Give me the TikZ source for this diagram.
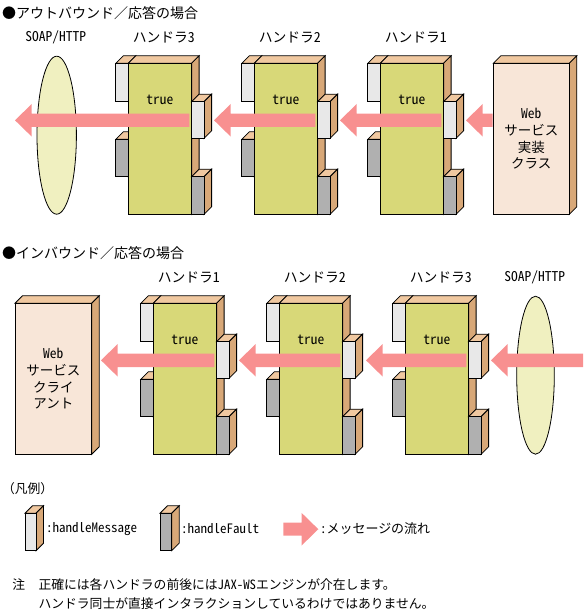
\documentclass[tikz,border=0pt]{standalone}
\usepackage{fontspec}
\setmainfont{Noto Sans CJK JP}
\newfontfamily\hwf{Noto Sans CJK JP}[RawFeature=+hwid]
\usetikzlibrary{shapes.geometric,calc}
\definecolor{topc}{HTML}{F0C8A0}
\definecolor{sidec}{HTML}{D8A878}
\definecolor{mainc}{HTML}{D8D878}
\definecolor{hmc}{HTML}{E8E8E8}
\definecolor{hfc}{HTML}{B0B0B0}
\definecolor{webc}{HTML}{F8E6D8}
\definecolor{ellc}{HTML}{F0F0C0}
\definecolor{flowc}{HTML}{F89090}
\tikzset{
  edge/.style={draw=black, line width=0.8pt, line join=miter},
  topf/.style={fill=topc, edge},
  sidef/.style={fill=sidec, edge},
  facebox/.style={edge, anchor=north west, inner sep=0pt, outer sep=0pt},
  txt/.style={inner sep=0pt, outer sep=0pt},
  ltxt/.style={txt, anchor=west},
  titletxt/.style={ltxt, font=\fontsize{14}{16.7}\selectfont},
  notetxt/.style={ltxt, font=\fontsize{12.8}{15}\selectfont},
  flow/.style={fill=flowc, draw=none},
}
% x y w h color name
\newcommand\hport[6]{%
  \path[topf] (#1,#2) -- ++(7.5,-7.5) -- ++(#3,0) -- ++(-7.5,7.5) -- cycle;
  \path[sidef] (#1+#3,#2) -- ++(7.5,-7.5) -- ++(0,#4) -- ++(-7.5,7.5) -- cycle;
  \node[facebox, fill=#5, minimum width=#3pt, minimum height=#4pt] (#6) at (#1,#2) {};
}
% x y prefix label
\newcommand\drawhandler[4]{%
  \begin{scope}[shift={(#1,#2)}]
    \hport{-12.5}{0}{12.5}{37.7}{hmc}{#3lm}
    \hport{-12.5}{76}{12.5}{37.4}{hfc}{#3lf}
    \path[topf] (0,0) -- (7.5,-7.5) -- (70.8,-7.5) -- (63.3,0) -- cycle;
    \path[sidef] (63.3,0) -- (70.8,-7.5) -- (70.8,143.5) -- (63.3,151) -- cycle;
    \node[facebox, fill=mainc, minimum width=63.3pt, minimum height=151pt] (#3) at (0,0) {};
    \node[txt] (#3t) at (31.5,37) {\hwf true};
    \hport{63.3}{38.4}{12.5}{36.6}{hmc}{#3rm}
    \hport{63.3}{113.4}{12.5}{37.6}{hfc}{#3rf}
    \node[txt, font=\fontsize{13.8}{16.7}\selectfont] (#3l) at (35.5,-26) {#4};
  \end{scope}%
}
% tail tip (leftwards)
\newcommand\flowarr[2]{%
  \path[flow] (#2) -- ($(#2)+(16.7,-16.3)$) -- ($(#2)+(16.7,-6.7)$) -- ($(#1)+(0,-6.7)$)
    -- ($(#1)+(0,6.7)$) -- ($(#2)+(16.7,6.7)$) -- ($(#2)+(16.7,16.3)$) -- cycle;
}
\begin{document}
\begin{tikzpicture}[x=1pt,y=-1pt,font=\fontsize{13.5}{16.7}\selectfont]
\useasboundingbox (0,0) rectangle (585,612);
% ---------- outbound ----------
\node[titletxt] (t1) at (2,13.5) {●アウトバウンド／応答の場合};
\node[txt] (soap1) at (55.8,37.3) {\hwf SOAP/HTTP};
\node[ellipse, edge, fill=ellc, minimum width=39.4pt, minimum height=158pt, inner sep=0pt] (e1) at (56.7,135.2) {};
\drawhandler{128.3}{63.3}{ha}{ハンドラ{\hwf 3}}
\drawhandler{254.3}{63.3}{hb}{ハンドラ{\hwf 2}}
\drawhandler{380.3}{63.3}{hc}{ハンドラ{\hwf 1}}
\path[topf] (493.3,63.3) -- ++(7.5,-7.5) -- ++(76,0) -- ++(-7.5,7.5) -- cycle;
\path[sidef] (569.3,63.3) -- ++(7.5,-7.5) -- ++(0,151) -- ++(-7.5,7.5) -- cycle;
\node[facebox, fill=webc, minimum width=76pt, minimum height=151pt, align=center] (ws) at (493.3,63.3) {{\hwf Web}\\サービス\\実装\\クラス};
\coordinate (a1e) at (189.3,120.3); \coordinate (a1h) at (15,120.3);
\coordinate (a2e) at (315.3,120.3); \coordinate (a2h) at (214,120.3);
\coordinate (a3e) at (441.3,120.3); \coordinate (a3h) at (340,120.3);
\coordinate (a4e) at (492.5,120.3); \coordinate (a4h) at (466,120.3);
\flowarr{a1e}{a1h}
\flowarr{a2e}{a2h}
\flowarr{a3e}{a3h}
\flowarr{a4e}{a4h}
% ---------- inbound ----------
\node[titletxt] (t2) at (2,253.3) {●インバウンド／応答の場合};
\path[topf] (15,303.3) -- ++(7.5,-7.5) -- ++(76.7,0) -- ++(-7.5,7.5) -- cycle;
\path[sidef] (91.7,303.3) -- ++(7.5,-7.5) -- ++(0,151) -- ++(-7.5,7.5) -- cycle;
\node[facebox, fill=webc, minimum width=76.7pt, minimum height=151pt, align=center] (wc) at (15,303.3) {{\hwf Web}\\サービス\\クライ\\アント};
\drawhandler{153.3}{303.3}{hd}{ハンドラ{\hwf 1}}
\drawhandler{279.3}{303.3}{he}{ハンドラ{\hwf 2}}
\drawhandler{405.3}{303.3}{hf}{ハンドラ{\hwf 3}}
\node[txt] (soap2) at (534.7,277.3) {\hwf SOAP/HTTP};
\node[ellipse, edge, fill=ellc, minimum width=37.6pt, minimum height=158pt, inner sep=0pt] (e2) at (535.5,375.2) {};
\coordinate (b1e) at (583,360.3); \coordinate (b1h) at (491,360.3);
\coordinate (b2e) at (466.3,360.3); \coordinate (b2h) at (366,360.3);
\coordinate (b3e) at (340.3,360.3); \coordinate (b3h) at (239,360.3);
\coordinate (b4e) at (214.3,360.3); \coordinate (b4h) at (101,360.3);
\flowarr{b1e}{b1h}
\flowarr{b2e}{b2h}
\flowarr{b3e}{b3h}
\flowarr{b4e}{b4h}
% ---------- legend ----------
\node[ltxt, font=\fontsize{12.8}{15}\selectfont] (lg) at (2,488.3) {（凡例）};
\hport{25}{513.3}{11}{37.4}{hmc}{lgm}
\node[ltxt, font=\fontsize{13}{15}\selectfont] (lgmt) at (46,529) {\hwf :handleMessage};
\hport{160}{513.3}{11.7}{37.4}{hfc}{lgf}
\node[ltxt, font=\fontsize{13}{15}\selectfont] (lgft) at (181,529) {\hwf :handleFault};
\coordinate (lae) at (283.3,529.2); \coordinate (lah) at (318.3,529.2);
\path[flow] (lah) -- ($(lah)+(-16.7,-16.3)$) -- ($(lah)+(-16.7,-6.5)$) -- ($(lae)+(0,-6.5)$)
  -- ($(lae)+(0,6.5)$) -- ($(lah)+(-16.7,6.5)$) -- ($(lah)+(-16.7,16.3)$) -- cycle;
\node[ltxt, font=\fontsize{13}{15}\selectfont] (lgat) at (320,529) {{\hwf :}メッセージの流れ};
% ---------- note ----------
\node[notetxt] (n0) at (12.5,585) {注};
\node[notetxt] (n1) at (38.5,585) {正確には各ハンドラの前後には{\hwf JAX-WS}エンジンが介在します。};
\node[notetxt] (n2) at (38.5,603.3) {ハンドラ同士が直接インタラクションしているわけではありません。};
\end{tikzpicture}
\end{document}
